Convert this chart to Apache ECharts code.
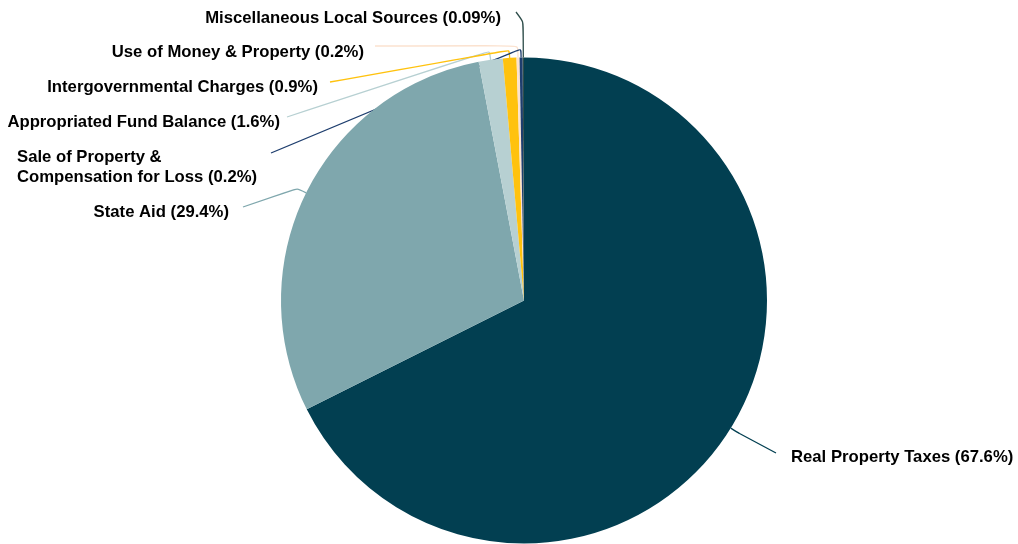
<!DOCTYPE html>
<html>
<head>
<meta charset="utf-8">
<script src="https://cdn.jsdelivr.net/npm/echarts@6/dist/echarts.min.js"></script>
<style>
  html, body { margin: 0; padding: 0; background: #ffffff; }
  #chart { width: 1018px; height: 544px; }
</style>
</head>
<body>
<div id="chart"></div>
<script>
// Revenue sources and their share of the total (percent)
const categories = [
  'Real Property Taxes',
  'State Aid',
  'Appropriated Fund Balance',
  'Intergovernmental Charges',
  'Use of Money & Property',
  'Sale of Property &\nCompensation for Loss',
  'Miscellaneous Local Sources'
];
const shares = [67.6, 29.4, 1.6, 0.9, 0.2, 0.2, 0.09];
const sliceColors = ['#023f51', '#7fa7ad', '#b7d0d2', '#ffc20e', '#fbe2cf', '#1e3e6e', '#2f4e4b'];

// Where each label sits, how far its leader runs out radially, and where it ends
const labelPlacement = [
  { x: 791, y: 457, align: 'left',  knee: 10, end: [776, 453] },
  { x: 229, y: 212, align: 'right', knee: 10, end: [243, 207] },
  { x: 280, y: 122, align: 'right', knee: 9,  end: [287, 117] },
  { x: 318, y: 87,  align: 'right', knee: 8,  end: [330, 82] },
  { x: 364, y: 52,  align: 'right', knee: 12, end: [375, 46] },
  { x: 17,  y: 167, align: 'left',  knee: 9,  end: [271, 153] },
  { x: 501, y: 18,  align: 'right', knee: 36, end: [516, 12] }
];

const chart = echarts.init(document.getElementById('chart'), null, { renderer: 'canvas' });

chart.setOption({
  backgroundColor: '#ffffff',
  animation: false,
  series: [{
    type: 'pie',
    center: [524, 300.5],
    radius: 243,
    startAngle: 90,
    clockwise: true,
    avoidLabelOverlap: false,
    silent: true,
    data: categories.map((name, i) => ({
      name: name,
      value: shares[i],
      itemStyle: { color: sliceColors[i] },
      labelLine: { lineStyle: { color: sliceColors[i] } }
    })),
    itemStyle: { borderWidth: 0 },
    label: {
      show: true,
      position: 'outside',
      formatter: '{b} ({c}%)',
      fontFamily: '"Liberation Sans", Arial, Helvetica, sans-serif',
      fontWeight: 'bold',
      fontSize: 16.7,
      lineHeight: 20,
      color: '#000000'
    },
    labelLine: {
      show: true,
      length: 10,
      length2: 10,
      smooth: 0.2,
      lineStyle: { width: 1.3 }
    },
    labelLayout: function (params) {
      const p = labelPlacement[params.dataIndex];
      const pts = params.labelLinePoints;
      const p0 = pts[0];
      const dx = pts[1][0] - p0[0];
      const dy = pts[1][1] - p0[1];
      const len = Math.sqrt(dx * dx + dy * dy) || 1;
      const knee = [p0[0] + dx / len * p.knee, p0[1] + dy / len * p.knee];
      return {
        x: p.x,
        y: p.y,
        align: p.align,
        verticalAlign: 'middle',
        labelLinePoints: [p0, knee, p.end]
      };
    }
  }]
});
</script>
</body>
</html>
